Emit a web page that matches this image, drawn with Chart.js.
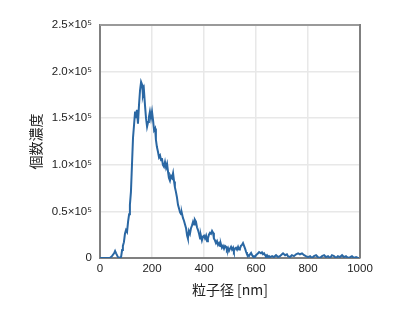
<!DOCTYPE html>
<html lang="ja">
<head>
    <meta charset="UTF-8" />
    <title>粒子径分布</title>
    <style>
        body { margin: 0; padding: 0; background: #fff; }
        canvas { display: block; }
    </style>
    <script src="https://cdn.jsdelivr.net/npm/chart.js"></script>
</head>
<body>
    <canvas id="sizeChart" width="400" height="319"></canvas>
    <script>
        // particle diameter [nm]
        const diameterNm = [
            0, 38, 46, 54, 58, 62, 69, 77,
            81, 85, 88, 92, 96, 100, 104, 108, 112, 115, 119, 123, 127, 131, 135, 138, 142, 146, 150, 154,
            158, 162, 165, 169, 173, 177, 181, 185, 188, 192, 196, 200, 204, 208, 212, 215, 219, 223, 227, 231,
            235, 238, 242, 246, 250, 254, 258, 262, 265, 269, 273, 277, 281, 285, 288, 292, 296, 300, 304, 308,
            312, 315, 319, 323, 327, 331, 335, 338, 342, 346, 350, 354, 358, 362, 365, 369, 373, 377, 381, 385,
            388, 392, 396, 400, 404, 408, 412, 415, 419, 423, 427, 431, 435, 438, 442, 446, 450, 454, 458, 462,
            465, 469, 473, 477, 481, 485, 488, 492, 496, 500, 504, 508, 512, 515, 519, 523, 527, 531, 535, 538,
            542, 546, 550, 554, 558, 562, 565, 569, 573, 577, 581, 585, 588, 592, 596, 600, 604, 608, 612, 615,
            619, 623, 627, 631, 635, 638, 642, 646, 650, 654,
            662, 669, 677, 685, 692, 700, 704, 712, 719, 723, 731, 738, 746, 754, 762, 769, 777, 785, 792, 800,
            808, 815, 823, 831, 838, 846, 854, 862, 869, 877, 885, 892, 900, 908, 915, 923, 931, 938, 946, 954,
            962, 969, 977, 985, 992, 1000
        ];
        // number concentration, in thousands
        const concentrationK = [
            0, 0, 2, 5, 7.5, 5, 1, 0,
            1, 8.6, 13, 17, 26, 30, 28, 39, 47, 57, 71, 100, 129, 143, 157, 150, 159, 144, 164, 180,
            189, 186, 175, 180, 164, 150, 141, 146, 151, 157, 150, 157, 148, 137, 139, 127, 119, 114, 108, 110,
            105, 107, 100, 98, 103, 97, 101, 92, 86, 83, 88, 86, 91, 82, 76, 71, 65, 57, 53, 49,
            47, 48, 43, 40, 36, 32, 24, 21, 29, 26, 32, 35, 39, 36, 41, 39, 33, 30, 26, 21,
            24, 19, 23, 24, 21, 24, 18, 21, 25, 27, 26, 29, 27, 21, 19, 16, 18, 14, 16, 13,
            15, 11, 13, 10, 13, 12, 9, 11, 7.5, 10, 12, 9, 11, 7.5, 10, 11, 9, 12, 9, 10,
            13, 14, 16, 13, 10, 6.4, 4.3, 3.2, 2, 4, 5.4, 3, 2, 2, 1, 3, 4, 5, 6.4, 6.4,
            5, 6, 4, 5, 3, 2, 3, 1, 2, 1,
            2, 1, 3, 1, 2, 4, 5, 3, 4, 2, 1, 3, 2, 4, 5, 4, 5, 3, 2, 1,
            2, 0, 2, 3, 1, 0, 2, 3, 1, 2, 0, 3, 2, 0, 2, 1, 3, 1, 2, 0,
            1, 2, 0, 1, 0, 0
        ];
        const xTicks = [0, 200, 400, 600, 800, 1000];
        const yTicks = [0, 50, 100, 150, 200, 250];

        const points = [];
        const n = Math.min(diameterNm.length, concentrationK.length);
        for (let i = 0; i < n; i++) {
            points.push({ x: diameterNm[i], y: concentrationK[i] });
        }

        function yLabel(v) {
            if (v === 0) return '0';
            return (v / 100).toFixed(1) + '×10⁵';
        }

        // top and right edges of the plot box
        const frame = {
            id: 'frame',
            afterDraw(chart) {
                const { ctx, chartArea: a } = chart;
                ctx.save();
                ctx.lineWidth = 2;
                ctx.strokeStyle = '#9a9a9a';
                ctx.beginPath();
                ctx.moveTo(a.left, a.top);
                ctx.lineTo(a.right, a.top);
                ctx.stroke();
                ctx.strokeStyle = '#808080';
                ctx.beginPath();
                ctx.moveTo(a.right, a.top - 1);
                ctx.lineTo(a.right, a.bottom);
                ctx.stroke();
                ctx.restore();
            }
        };

        const tickFont = { family: '"Liberation Sans", Arial, sans-serif', size: 11.5 };
        const titleFont = { family: '"Noto Sans CJK JP", "Liberation Sans", sans-serif', size: 14 };

        new Chart(document.getElementById('sizeChart'), {
            type: 'line',
            data: {
                datasets: [{
                    data: points,
                    borderColor: '#2a67a3',
                    borderWidth: 2,
                    pointRadius: 0,
                    tension: 0,
                    fill: false
                }]
            },
            options: {
                responsive: false,
                animation: false,
                devicePixelRatio: 1,
                layout: { padding: { top: 25, right: 40, left: 0, bottom: 0 } },
                plugins: { legend: { display: false }, tooltip: { enabled: false } },
                scales: {
                    x: {
                        type: 'linear',
                        min: 0,
                        max: 1000,
                        afterFit(scale) { scale.height = 61; },
                        afterBuildTicks(scale) { scale.ticks = xTicks.map(v => ({ value: v })); },
                        ticks: { color: '#222', font: tickFont, padding: 4, maxRotation: 0, callback: v => String(v) },
                        grid: { color: '#e8e8e8', lineWidth: 1.5, drawTicks: false },
                        border: { color: '#808080', width: 2 },
                        title: { display: true, text: '粒子径 [nm]', color: '#222', font: titleFont, padding: { top: 0, bottom: 21 } }
                    },
                    y: {
                        min: 0,
                        max: 250,
                        afterFit(scale) { scale.width = 100; },
                        afterBuildTicks(scale) { scale.ticks = yTicks.map(v => ({ value: v })); },
                        ticks: { color: '#222', font: tickFont, padding: 8, callback: yLabel },
                        grid: { color: '#e8e8e8', lineWidth: 1.5, drawTicks: false },
                        border: { color: '#808080', width: 2 },
                        title: { display: true, text: '個数濃度', color: '#222', font: titleFont, padding: { top: 27, bottom: 0 } }
                    }
                }
            },
            plugins: [frame]
        });
    </script>
</body>
</html>
